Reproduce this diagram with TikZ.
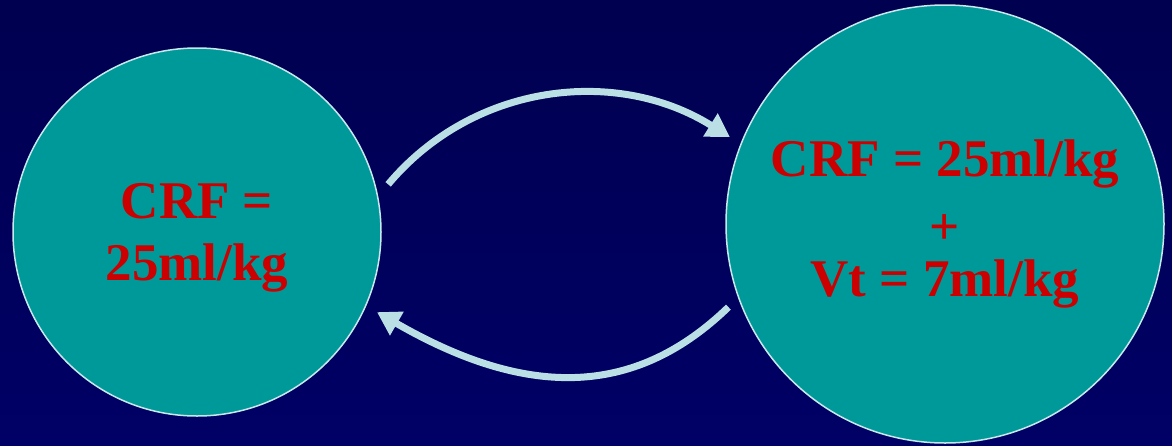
\documentclass[tikz,border=0pt]{standalone}
\usepackage{fontspec}
\setmainfont{Liberation Serif}
\usetikzlibrary{arrows.meta}
\definecolor{navytop}{RGB}{0,0,80}
\definecolor{navybot}{RGB}{0,0,102}
\definecolor{teal}{RGB}{0,153,153}
\definecolor{rim}{RGB}{200,232,236}
\definecolor{flowc}{RGB}{186,224,230}
\definecolor{red}{RGB}{204,0,0}
\begin{document}
\begin{tikzpicture}[x=1pt,y=1pt,
    bubble/.style={circle,draw=rim,line width=1.5pt,fill=teal,inner sep=0pt,outer sep=13pt,
      text=red,align=center,font=\bfseries\fontsize{53}{62}\selectfont},
    flow/.style={draw=flowc,line width=7pt,-{Triangle[length=23pt,width=26pt]}}]
    \shade[top color=navytop,bottom color=navybot] (0,0) rectangle (1172,-445);
    \useasboundingbox (0,0) rectangle (1172,-445);
    \node[bubble,minimum size=368pt,text depth=0pt] (crf) at (197,-232) {CRF =\\25ml/kg};
    \node[bubble,minimum size=438pt,font=\bfseries\fontsize{53}{60}\selectfont] (crfvt) at (945,-224)
      {CRF = 25ml/kg\\\raisebox{-8pt}{+}\\Vt = 7ml/kg};
    \draw[flow] (crf.14) to[out=50,in=148,distance=133pt] (crfvt.158);
    \draw[flow] (crfvt.201) to[out=224,in=330,out distance=125pt,in distance=180pt] (crf.-24);
  \end{tikzpicture}
\end{document}
